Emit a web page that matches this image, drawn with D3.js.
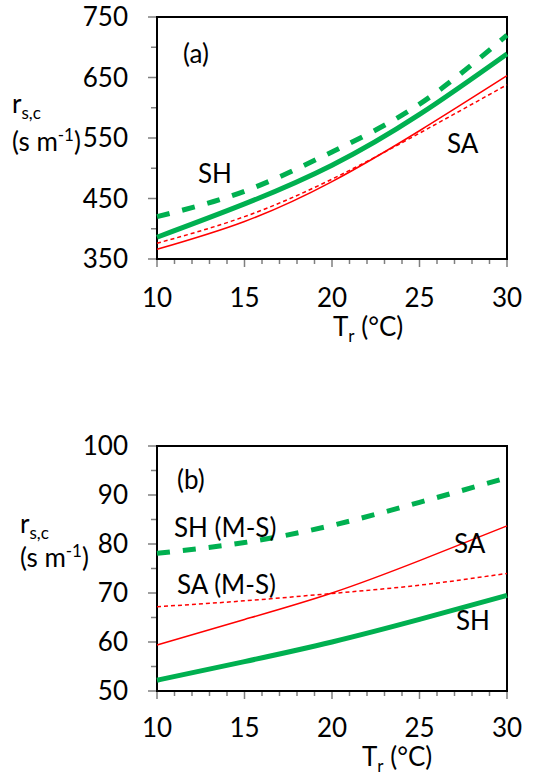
<!DOCTYPE html>
<html>
<head>
<meta charset="utf-8">
<script src="https://cdn.jsdelivr.net/npm/d3@7"></script>
<style>
  body { margin: 0; background: #fff; }
  svg text { font-family: Lato, "Open Sans", sans-serif; fill: #000; }
</style>
</head>
<body>
<svg id="chart" width="537" height="776"></svg>
<script>
// temperatures (°C)
var temps = [10, 15, 20, 25, 30];

// panel (a) values, s m-1
var aSHdash = [420, 462, 527, 606, 720];
var aSHsolid = [386, 441, 505, 589, 689];
var aSAsolid = [366, 412, 478, 562, 653];
var aSAdash = [376, 420, 482, 558, 638];

// panel (b) values, s m-1
var bSHdash = [78.1, 80.3, 83.8, 88.5, 93.5];
var bSAsolid = [59.4, 64.6, 70.0, 76.6, 83.7];
var bSAdash = [67.2, 68.4, 69.9, 71.6, 74.0];
var bSHsolid = [52.2, 56.0, 60.0, 64.6, 69.5];

var xTicks = [10, 15, 20, 25, 30];
var aTicks = [350, 450, 550, 650, 750];
var bTicks = [50, 60, 70, 80, 90, 100];

var green = "#00b050", red = "#ff0000", tickCol = "#7f7f7f";
var fs = 26, fsSmall = 17;
var svg = d3.select("#chart");

function panel(opt) {
    var x = d3.scaleLinear().domain([10, 30]).range([157, 507]);
    var y = d3.scaleLinear().domain(opt.ydomain).range([opt.bottom, opt.top]);

    // tick marks drawn straight off the scales
    var yAll = opt.yticks.map(v => [v, 9]).concat(opt.yminor.map(v => [v, 6]));
    svg.append("g").selectAll("line")
        .data(yAll)
        .join("line")
        .attr("x1", x(10)).attr("x2", d => x(10) - d[1])
        .attr("y1", d => y(d[0])).attr("y2", d => y(d[0]))
        .attr("stroke", tickCol).attr("stroke-width", 1.5);

    var xAll = d3.range(10, 31).map(v => [v, v % 5 === 0 ? 8 : 5]);
    svg.append("g").selectAll("line")
        .data(xAll)
        .join("line")
        .attr("x1", d => x(d[0])).attr("x2", d => x(d[0]))
        .attr("y1", opt.bottom).attr("y2", d => opt.bottom + d[1])
        .attr("stroke", tickCol).attr("stroke-width", 1.5);

    // tick labels
    svg.append("g").selectAll("text")
        .data(opt.yticks)
        .join("text")
        .attr("x", 128)
        .attr("y", d => y(d))
        .attr("dy", "0.36em")
        .attr("text-anchor", "end")
        .attr("font-size", fs)
        .text(d => d);

    svg.append("g").selectAll("text")
        .data(xTicks)
        .join("text")
        .attr("x", d => x(d))
        .attr("y", opt.bottom + opt.tickBase)
        .attr("text-anchor", "middle")
        .attr("font-size", fs)
        .text(d => d);

    // plot frame
    svg.append("rect")
        .attr("x", x(10)).attr("y", opt.top)
        .attr("width", x(30) - x(10)).attr("height", opt.bottom - opt.top)
        .attr("fill", "none").attr("stroke", "#000").attr("stroke-width", 2);

    var line = d3.line()
        .x((d, i) => x(temps[i]))
        .y(d => y(d))
        .curve(d3.curveNatural);

    opt.series.forEach(s => {
        svg.append("path")
            .datum(s.values)
            .attr("d", line)
            .attr("fill", "none")
            .attr("stroke", s.color)
            .attr("stroke-width", s.width)
            .attr("stroke-dasharray", s.dash || null);
    });

    opt.labels.forEach(l => {
        svg.append("text")
            .attr("x", l[1]).attr("y", l[2])
            .attr("font-size", fs)
            .text(l[0]);
    });

    // y axis title
    var t1 = svg.append("text").attr("x", opt.ylab[0]).attr("y", opt.ylab[1]).attr("font-size", fs);
    t1.append("tspan").text("r");
    t1.append("tspan").attr("font-size", fsSmall).attr("dy", 6).text("s,c");
    var t2 = svg.append("text").attr("x", opt.ylab[0]).attr("y", opt.ylab[2]).attr("font-size", fs);
    t2.append("tspan").text("(s m");
    t2.append("tspan").attr("font-size", fsSmall).attr("dy", -10).text("-1");
    t2.append("tspan").attr("dy", 10).text(")");

    // x axis title
    var t3 = svg.append("text").attr("x", opt.xlab[0]).attr("y", opt.xlab[1]).attr("font-size", fs);
    t3.append("tspan").text("T");
    t3.append("tspan").attr("font-size", fsSmall).attr("dy", 6).text("r");
    t3.append("tspan").attr("dy", -6).text(" (°C)");
}

panel({
    top: 17, bottom: 259,
    ydomain: [350, 750],
    yticks: aTicks,
    yminor: [400, 500, 600, 700],
    tickBase: 48,
    series: [
        {values: aSAsolid, color: red, width: 1.5},
        {values: aSAdash, color: red, width: 1.5, dash: "4,3"},
        {values: aSHsolid, color: green, width: 5},
        {values: aSHdash, color: green, width: 5, dash: "13,13"}
    ],
    labels: [["(a)", 183, 63], ["SH", 198, 183], ["SA", 447, 153]],
    ylab: [12, 113, 151],
    xlab: [333, 336]
});

panel({
    top: 446, bottom: 691,
    ydomain: [50, 100],
    yticks: bTicks,
    yminor: [55, 65, 75, 85, 95],
    tickBase: 46,
    series: [
        {values: bSAsolid, color: red, width: 1.5},
        {values: bSAdash, color: red, width: 1.5, dash: "4,3"},
        {values: bSHsolid, color: green, width: 5},
        {values: bSHdash, color: green, width: 5, dash: "13,13"}
    ],
    labels: [["(b)", 177, 489], ["SH (M-S)", 174, 537], ["SA (M-S)", 177, 594], ["SA", 454, 553], ["SH", 456, 630]],
    ylab: [20, 533, 567],
    xlab: [362, 766]
});
</script>
</body>
</html>
